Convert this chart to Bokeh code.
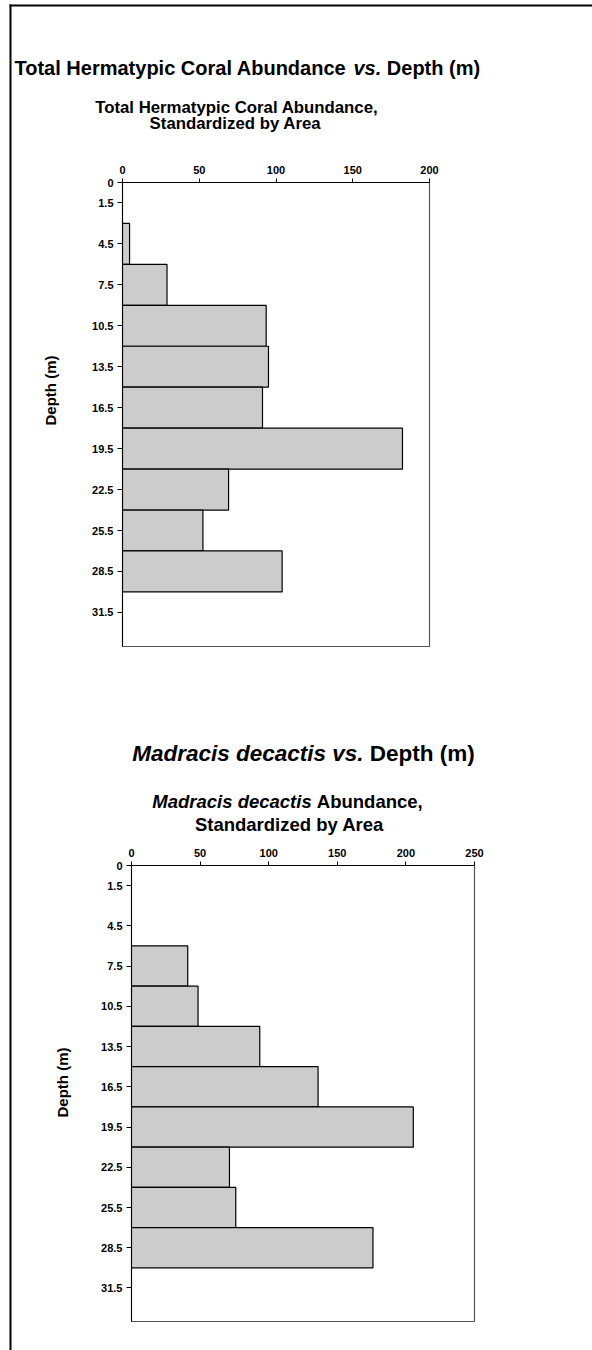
import math
from bokeh.plotting import figure
from bokeh.models import Range1d, FixedTicker, Label
from bokeh.embed import file_html
from bokeh.resources import INLINE

# ---- data -------------------------------------------------------------
# depth classes (m): each bar covers 3 m centred on its tick
depth_ticks = [0, 1.5, 4.5, 7.5, 10.5, 13.5, 16.5, 19.5, 22.5, 25.5, 28.5, 31.5]
depth_tick_labels = ["0", "1.5", "4.5", "7.5", "10.5", "13.5", "16.5",
                     "19.5", "22.5", "25.5", "28.5", "31.5"]

total_depth = [4.5, 7.5, 10.5, 13.5, 16.5, 19.5, 22.5, 25.5, 28.5]
total_abund = [4.6, 29.0, 93.6, 95.1, 91.2, 182.4, 69.1, 52.4, 104.0]
total_x_ticks = [0, 50, 100, 150, 200]

madracis_depth = [7.5, 10.5, 13.5, 16.5, 19.5, 22.5, 25.5, 28.5]
madracis_abund = [41.0, 48.5, 93.5, 136.0, 205.4, 71.4, 76.0, 176.0]
madracis_x_ticks = [0, 50, 100, 150, 200, 250]

BAR_HEIGHT = 3
DEPTH_MAX = 34
FONT = "Liberation Sans"
PAGE_W, PAGE_H = 592, 1350

# Arial/Liberation Sans Bold advance widths (1/1000 em), used to lay out
# headings that mix upright and italic runs.
_W = {" ": 278, "(": 333, ")": 333, ",": 278, ".": 278,
      "A": 722, "C": 722, "D": 722, "H": 722, "M": 833, "S": 667, "T": 611,
      "a": 556, "b": 611, "c": 556, "d": 611, "e": 556, "h": 611, "i": 278,
      "l": 278, "m": 889, "n": 611, "o": 611, "p": 611, "r": 389, "s": 556,
      "t": 333, "u": 611, "v": 556, "y": 556, "z": 500}


def text_width(s, size):
    return sum(_W.get(c, 556) for c in s) * size / 1000.0


def absolute(left, top):
    return {"position": "absolute", "left": f"{left}px", "top": f"{top}px"}


# ---- page layer: headings, axis titles and the page rule lines ----------
page = figure(width=PAGE_W, height=PAGE_H, x_range=Range1d(0, PAGE_W),
              y_range=Range1d(PAGE_H, 0), x_axis_type=None, y_axis_type=None,
              title=None, output_backend="svg", toolbar_location=None,
              min_border=0, styles=absolute(0, 0))
page.outline_line_color = None
page.background_fill_color = "white"
page.border_fill_color = "white"

# rule lines along the top and left edge of the page
page.segment(x0=[9, 10], y0=[5, 4], x1=[PAGE_W, 10], y1=[5, PAGE_H],
             line_color="black", line_width=2)


def runs(parts, size, baseline, left=None, center=None):
    """Lay out text runs of different styles on one line."""
    total = sum(text_width(t, size) for t, _ in parts)
    x = left if left is not None else center - total / 2.0
    for t, style in parts:
        lead = len(t) - len(t.lstrip(" "))
        page.add_layout(Label(x=x + text_width(" " * lead, size), y=baseline,
                              text=t.strip(" "), text_font=FONT,
                              text_font_style=style, text_font_size=f"{size}px",
                              text_color="black", text_align="left",
                              text_baseline="alphabetic"))
        x += text_width(t, size)


def ylabel(text, size, cx, cy):
    page.add_layout(Label(x=cx, y=cy, text=text, angle=math.pi / 2,
                          text_font=FONT, text_font_style="bold",
                          text_font_size=f"{size}px", text_color="black",
                          text_align="center", text_baseline="middle"))


runs([("Total Hermatypic Coral Abundance ", "bold"), ("vs.", "bold italic"),
      (" Depth (m)", "bold")], 20, 67, left=14)
runs([("Total Hermatypic Coral Abundance,", "bold")], 16.8, 107, center=237)
runs([("Standardized by Area", "bold")], 16.8, 123, center=235)
ylabel("Depth (m)", 15, 50, 390)

runs([("Madracis decactis vs.", "bold italic"), (" Depth (m)", "bold")], 22.5, 753, center=303)
runs([("Madracis decactis", "bold italic"), (" Abundance,", "bold")], 18.5, 801, center=287)
runs([("Standardized by Area", "bold")], 18.5, 824, center=289)
ylabel("Depth (m)", 15, 62, 1082)


# ---- chart layers --------------------------------------------------------
def chart(xmax, xticks, depths, values, top, height, frame_left, frame_right,
          frame_top, frame_bottom):
    p = figure(width=PAGE_W, height=height,
               x_range=Range1d(0, xmax), y_range=Range1d(DEPTH_MAX, 0),
               x_axis_location="above", title=None,
               output_backend="svg", toolbar_location=None,
               min_border_left=frame_left, min_border_right=PAGE_W - frame_right,
               min_border_top=frame_top - top,
               min_border_bottom=top + height - frame_bottom,
               styles=absolute(0, top))
    p.hbar(y=depths, height=BAR_HEIGHT, left=0, right=values,
           fill_color="#cccccc", line_color="black", line_width=1.2)
    p.xgrid.visible = False
    p.ygrid.visible = False
    p.background_fill_color = "white"
    p.border_fill_color = None
    p.outline_line_color = "#555555"
    p.outline_line_width = 1.2

    for ax in (p.xaxis[0], p.yaxis[0]):
        ax.axis_line_color = "black"
        ax.axis_line_width = 1
        ax.major_tick_line_color = "black"
        ax.major_tick_in = 0
        ax.minor_tick_out = 0
        ax.minor_tick_in = 0
        ax.major_label_text_font = FONT
        ax.major_label_text_font_style = "bold"
        ax.major_label_text_font_size = "11px"
        ax.major_label_text_color = "black"

    p.xaxis.ticker = FixedTicker(ticks=xticks, minor_ticks=[])
    p.xaxis.major_tick_out = 4
    p.xaxis.major_label_standoff = 5

    p.yaxis.ticker = FixedTicker(ticks=depth_ticks, minor_ticks=[])
    p.yaxis.major_label_overrides = {t: s for t, s in zip(depth_ticks, depth_tick_labels)}
    p.yaxis.major_tick_out = 5
    p.yaxis.major_label_standoff = 4
    return p


total_chart = chart(200, total_x_ticks, total_depth, total_abund,
                    top=0, height=690, frame_left=122, frame_right=429,
                    frame_top=182, frame_bottom=646)
madracis_chart = chart(250, madracis_x_ticks, madracis_depth, madracis_abund,
                       top=690, height=660, frame_left=131, frame_right=474,
                       frame_top=865, frame_bottom=1321)

open("out.html", "w").write(file_html([page, total_chart, madracis_chart], INLINE))
